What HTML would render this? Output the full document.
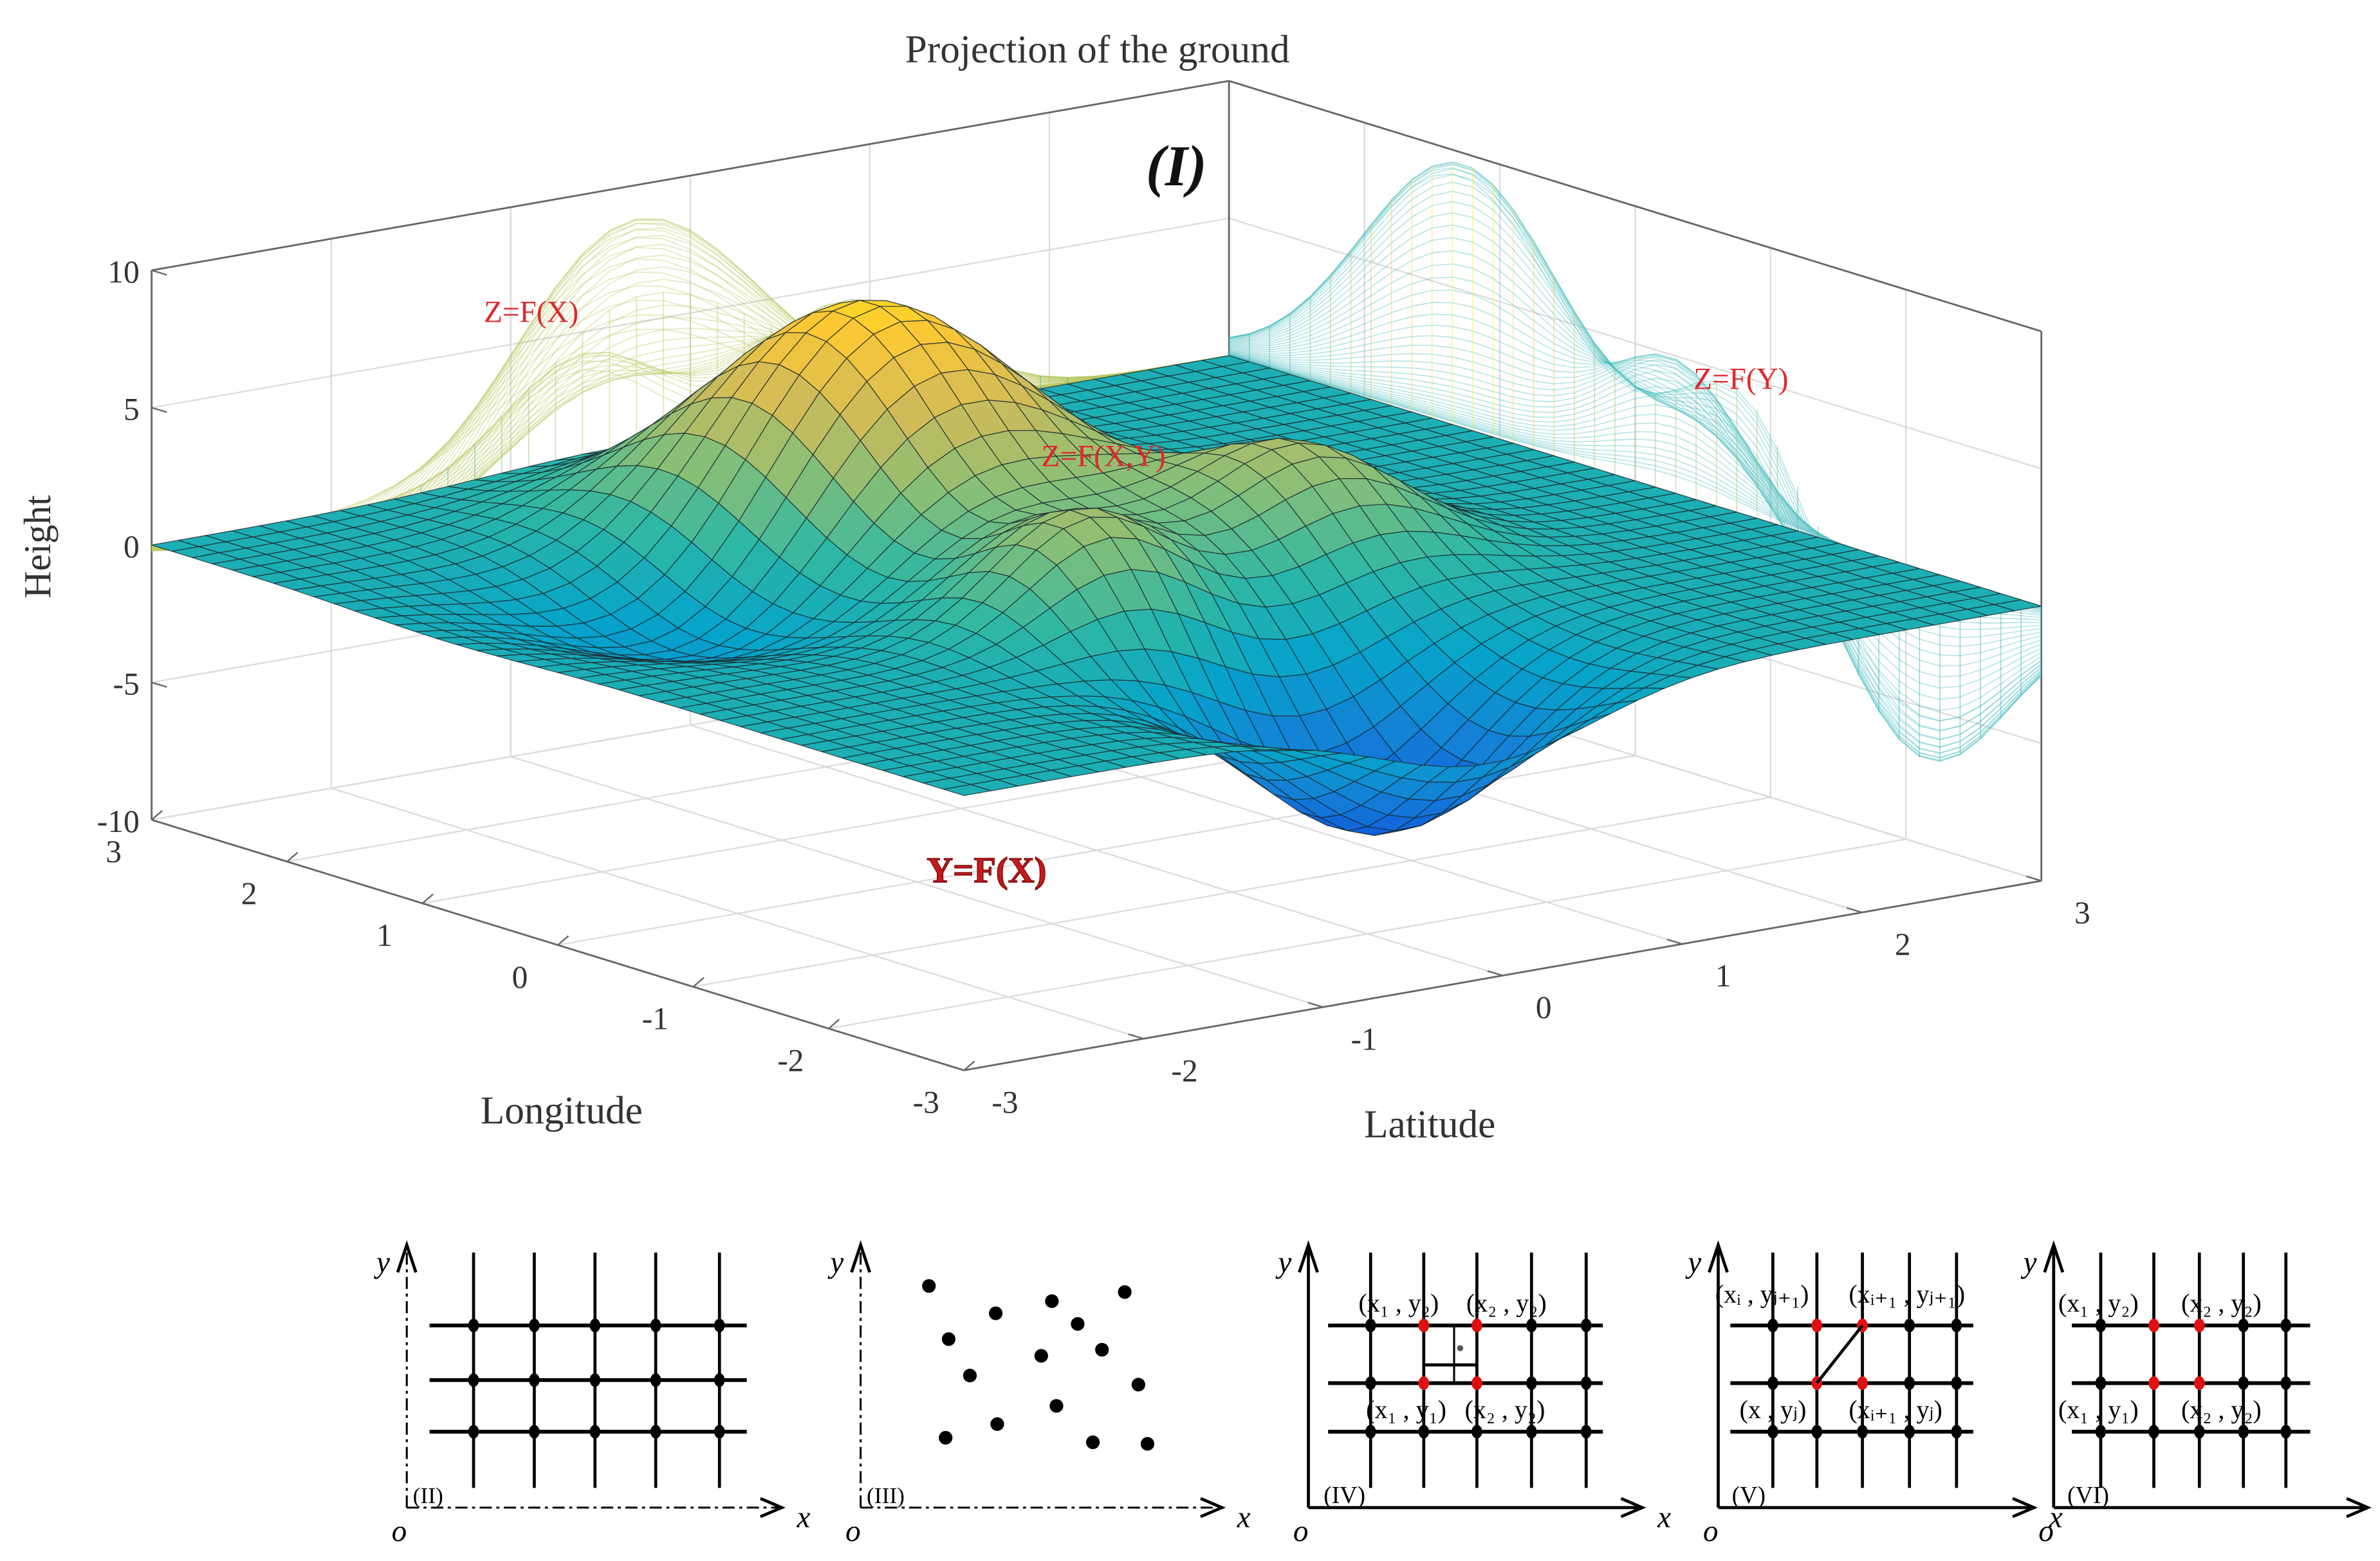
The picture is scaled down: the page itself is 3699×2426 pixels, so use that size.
<!DOCTYPE html>
<html><head><meta charset="utf-8">
<style>
html,body{margin:0;padding:0;background:#fff;}
svg{display:block;}
text{font-family:"Liberation Serif",serif;}
</style></head>
<body>
<svg id="fig" width="3699" height="2426" viewBox="0 0 1568 1028" xmlns="http://www.w3.org/2000/svg">
<g id="walls"></g>
<g id="proj"></g>
<g id="surf"></g>
<g id="labels">
<text x="723" y="41" font-size="26" text-anchor="middle" fill="#333">Projection of the ground</text>
<text x="775" y="122" font-size="38" font-weight="bold" font-style="italic" text-anchor="middle" fill="#111">(I)</text>
<text transform="translate(33,360) rotate(-90)" font-size="25" text-anchor="middle" fill="#333">Height</text>
<text x="370" y="740" font-size="26" text-anchor="middle" fill="#333">Longitude</text>
<text x="942" y="749" font-size="26" text-anchor="middle" fill="#333">Latitude</text>
<text x="350" y="212" font-size="20" text-anchor="middle" fill="#e0282c">Z=F(X)</text>
<text x="1147" y="256" font-size="20" text-anchor="middle" fill="#e0282c">Z=F(Y)</text>
<text x="727" y="307" font-size="20" text-anchor="middle" fill="#e0282c">Z=F(X,Y)</text>
<text x="650" y="581" font-size="24" font-weight="bold" text-anchor="middle" fill="#c8181c" stroke="#7a0a0a" stroke-width="0.6">Y=F(X)</text>
</g>
<g id="panels"></g>
</svg>
<script>
// ---- data ----
const zTicks=[10,5,0,-5,-10];
const lonTicks=[3,2,1,0,-1,-2,-3];
const latTicks=[-3,-2,-1,0,1,2,3];
const peakLon=[1.24,-0.3,-0.75,-2.15,0.87];
const peakLat=[-0.39,0.9,-0.59,-0.08,-1.47];
const peakAmp=[9,4,4,-6,-3.5];
const peakSig=[0.75,0.5,0.45,0.6,0.65];
const NS="http://www.w3.org/2000/svg";
const O=[722.4,379],A=[-89.2,-27.5],B=[118.3,-20.8],C=[0,-18.1];
function P(lo,la,z){return [O[0]+lo*A[0]+la*B[0]+z*C[0],O[1]+lo*A[1]+la*B[1]+z*C[1]];}
function Z(lo,la){let s=0;for(let i=0;i<peakAmp.length;i++){const d=((lo-peakLon[i])**2+(la-peakLat[i])**2)/(2*peakSig[i]**2);s+=peakAmp[i]*Math.exp(-d);}return s;}
const stops=[[53,42,135],[15,92,221],[20,129,214],[6,164,202],[46,183,164],[135,191,119],[209,187,89],[254,200,50],[249,251,14]];
function col(z){let t=(z+8)/18;t=Math.max(0,Math.min(1,t))*(stops.length-1);const i=Math.min(stops.length-2,Math.floor(t)),f=t-i;const c=stops[i].map((v,k)=>Math.round(v+(stops[i+1][k]-v)*f));return `rgb(${c})`;}
function el(p,tag,at,name){const e=document.createElementNS(NS,tag);for(const k in at)e.setAttribute(k,at[k]);


p.appendChild(e);return e;}
const pts=a=>a.map(p=>p[0].toFixed(1)+','+p[1].toFixed(1)).join(' ');
// walls & grid
const W=document.getElementById('walls');
const g='#dcdcdc';
for(const z of zTicks){el(W,'polyline',{points:pts([P(3,-3,z),P(3,3,z),P(-3,3,z)]),fill:'none',stroke:g,'stroke-width':1},'z-gridline');}
for(const la of latTicks){el(W,'polyline',{points:pts([P(3,la,-10),P(3,la,10)]),stroke:g,fill:'none'},'wall-gridline');el(W,'line',{x1:P(3,la,-10)[0],y1:P(3,la,-10)[1],x2:P(-3,la,-10)[0],y2:P(-3,la,-10)[1],stroke:g},'floor-gridline');}
for(const lo of lonTicks){el(W,'polyline',{points:pts([P(lo,3,-10),P(lo,3,10)]),stroke:g,fill:'none'},'wall-gridline');el(W,'line',{x1:P(lo,-3,-10)[0],y1:P(lo,-3,-10)[1],x2:P(lo,3,-10)[0],y2:P(lo,3,-10)[1],stroke:g},'floor-gridline');}
const bx='#666';
[[P(3,-3,-10),P(3,-3,10)],[P(3,3,-10),P(3,3,10)],[P(-3,3,-10),P(-3,3,10)],[P(3,-3,10),P(3,3,10)],[P(3,3,10),P(-3,3,10)],[P(3,-3,-10),P(-3,-3,-10)],[P(-3,-3,-10),P(-3,3,-10)]].forEach(s=>el(W,'line',{x1:s[0][0],y1:s[0][1],x2:s[1][0],y2:s[1][1],stroke:bx,'stroke-width':1.2},'axis-line'));
for(const z of zTicks){const p=P(3,-3,z);el(W,'line',{x1:p[0],y1:p[1],x2:p[0]+10,y2:p[1]+3,stroke:bx},'z-tick');const t=el(W,'text',{x:p[0]-8,y:p[1]+8,'font-size':21,'text-anchor':'end',fill:'#333'},'z-tick-label');t.textContent=z;}
for(const lo of lonTicks){const p=P(lo,-3,-10);el(W,'line',{x1:p[0],y1:p[1],x2:p[0]+7,y2:p[1]-6,stroke:bx},'longitude-tick');const t=el(W,'text',{x:p[0]-25,y:p[1]+28,'font-size':21,'text-anchor':'middle',fill:'#333'},'longitude-tick-label');t.textContent=lo;}
for(const la of latTicks){const p=P(-3,la,-10);el(W,'line',{x1:p[0],y1:p[1],x2:p[0]-10,y2:p[1]-3,stroke:bx},'latitude-tick');const t=el(W,'text',{x:p[0]+27,y:p[1]+28,'font-size':21,'text-anchor':'middle',fill:'#333'},'latitude-tick-label');t.textContent=la;}
// wall projections
const PR=document.getElementById('proj');const N=40;
for(let i=0;i<=N;i+=1){const lo=-3+6*i/N;
let p1=[];for(let j=0;j<=N;j++){const la=-3+6*j/N;const z=Z(lo*0.5+0.6,la)*1.05;p1.push(P(3,la,z));}
el(PR,'polyline',{points:pts(p1),fill:'none',stroke:'#b8c860','stroke-opacity':0.4,'stroke-width':0.7},'projection-zfx-line');
let p2=[];for(let j=0;j<=N;j++){const l=-3+6*j/N;const z=Z(l,lo*0.4+0.7)*1.15;p2.push(P(l,3,z));}
el(PR,'polyline',{points:pts(p2),fill:'none',stroke:'#4bbfc0','stroke-opacity':0.4,'stroke-width':0.7},'projection-zfy-line');}
for(let j=0;j<=N;j++){const la=-3+6*j/N;let zm=-99;for(let i=0;i<=N;i++){zm=Math.max(zm,Z(-3+6*i/N*0.5+0.6,la)*1.05);}
el(PR,'line',{x1:P(3,la,0)[0],y1:P(3,la,0)[1],x2:P(3,la,zm)[0],y2:P(3,la,zm)[1],stroke:col(zm),'stroke-opacity':0.45,'stroke-width':0.7},'projection-zfx-stem');
let zn=99,zx=-99;for(let i=0;i<=N;i++){const z=Z(la,-3+6*i/N*0.4+0.7)*1.15;zn=Math.min(zn,z);zx=Math.max(zx,z);}
el(PR,'line',{x1:P(la,3,zn)[0],y1:P(la,3,zn)[1],x2:P(la,3,zx)[0],y2:P(la,3,zx)[1],stroke:col(zx),'stroke-opacity':0.45,'stroke-width':0.7},'projection-zfy-stem');}
// surface
const S=document.getElementById('surf');const M=40;const quads=[];
for(let i=0;i<M;i++)for(let j=0;j<M;j++){const l0=-3+6*i/M,l1=-3+6*(i+1)/M,a0=-3+6*j/M,a1=-3+6*(j+1)/M;
const c=[[l0,a0],[l1,a0],[l1,a1],[l0,a1]].map(q=>[q[0],q[1],Z(q[0],q[1])]);
const zc=(c[0][2]+c[1][2]+c[2][2]+c[3][2])/4;const depth=((l0+l1)/2)*A[1]+((a0+a1)/2)*B[1];quads.push({c,zc,depth});}
quads.sort((u,v)=>u.depth-v.depth);
for(const q of quads){el(S,'polygon',{points:pts(q.c.map(p=>P(p[0],p[1],p[2]))),fill:col(q.zc),stroke:'#1c2a30','stroke-width':0.55,'stroke-opacity':0.8},'surface-cell');}
// bottom panels
const G=document.getElementById('panels');
function ln(x1,y1,x2,y2,w,d,name){return el(G,'line',{x1,y1,x2,y2,stroke:'#000','stroke-width':w||2,'stroke-dasharray':d||'none'},name);}
function dot(x,y,c){el(G,'ellipse',{cx:x,cy:y,rx:3.5,ry:4.5,fill:c||'#000'},'grid-node');}
function tx(x,y,s,sz,it,name){const t=el(G,'text',{x,y,'font-size':sz||17,'font-style':it?'italic':'normal',fill:'#000'},name);t.textContent=s;}
function axes(x0,x1,dash){const d=dash?'8,3,2,3':null;ln(x0,993,x0,822,dash?1.3:2,d,'panel-y-axis');ln(x0,993,x1,993,dash?1.3:2,d,'panel-x-axis');
el(G,'polyline',{points:`${x0-6},${838} ${x0},${820} ${x0+6},${838}`,fill:'none',stroke:'#000','stroke-width':2},'y-arrow');
el(G,'polyline',{points:`${x1-14},${987} ${x1},${993} ${x1-14},${999}`,fill:'none',stroke:'#000','stroke-width':2},'x-arrow');
tx(x0-20,838,'y',20,true,'y-label');tx(x1+10,1006,'x',20,true,'x-label');tx(x0-10,1015,'o',20,true,'origin-label');}
function grid(vx,hy,xa,xb,reds){vx.forEach(x=>ln(x,825,x,980,2,null,'grid-vline'));hy.forEach(y=>ln(xa,y,xb,y,2.5,null,'grid-hline'));vx.forEach(x=>hy.forEach(y=>dot(x,y,reds&&reds.some(r=>r[0]==x&&r[1]==y)?'#e01010':'#000')));}
axes(268,515,true);grid([312,352,392,432,474],[873,909,943],283,492);tx(272,990,'(II)',15,false,'panel-label-ii');
axes(567,805,true);tx(571,990,'(III)',15,false,'panel-label-iii');
[[612,847],[656,865],[693,857],[741,851],[625,882],[710,872],[686,893],[726,889],[639,906],[750,912],[696,926],[657,938],[623,947],[720,950],[756,951]].forEach(p=>el(G,'circle',{cx:p[0],cy:p[1],r:4.5,fill:'#000'},'scatter-point'));
axes(862,1082,false);grid([903,938,973,1009,1045],[873,911,943],875,1056,[[938,873],[973,873],[938,911],[973,911]]);
ln(958,873,958,911,1.3,null,'interp-line');ln(938,899,973,899,2,null,'interp-line');el(G,'circle',{cx:962,cy:888,r:2,fill:'#555'},'interp-point');
tx(895,864,'(x₁ , y₂)',17,false,'coord-label');tx(966,864,'(x₂ , y₂)',17,false,'coord-label');tx(900,934,'(x₁ , y₁)',17,false,'coord-label');tx(965,934,'(x₂ , y₂)',17,false,'coord-label');tx(872,990,'(IV)',16,false,'panel-label-iv');
axes(1132,1340,false);grid([1168,1197,1227,1258,1289],[873,911,943],1140,1300,[[1197,873],[1227,873],[1197,911],[1227,911]]);
ln(1197,911,1227,873,2,null,'triangle-line');
tx(1130,858,'(xᵢ , yⱼ₊₁)',17,false,'coord-label');tx(1218,858,'(xᵢ₊₁ , yⱼ₊₁)',17,false,'coord-label');tx(1146,934,'(x , yⱼ)',17,false,'coord-label');tx(1218,934,'(xᵢ₊₁ , yⱼ)',17,false,'coord-label');tx(1141,990,'(V)',16,false,'panel-label-v');
axes(1353,1560,false);grid([1384,1419,1449,1478,1506],[873,911,943],1365,1522,[[1419,873],[1449,873],[1419,911],[1449,911]]);
tx(1356,864,'(x₁ , y₂)',17,false,'coord-label');tx(1437,864,'(x₂ , y₂)',17,false,'coord-label');tx(1356,934,'(x₁ , y₁)',17,false,'coord-label');tx(1437,934,'(x₂ , y₂)',17,false,'coord-label');tx(1362,990,'(VI)',16,false,'panel-label-vi');
</script>
</body></html>
